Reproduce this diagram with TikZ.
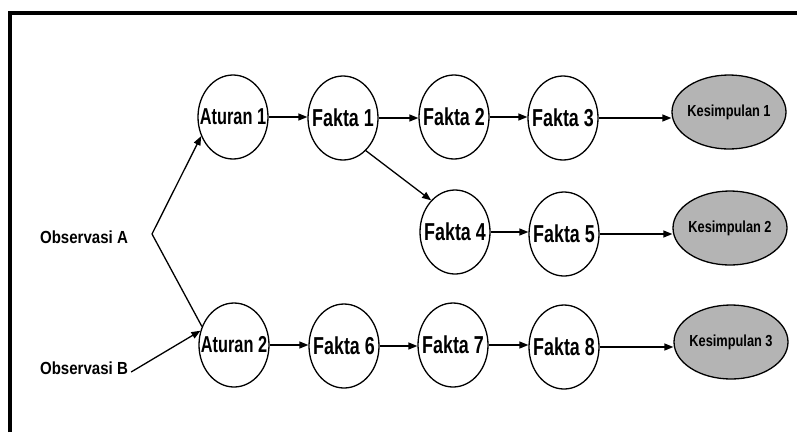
\documentclass[tikz,border=0pt]{standalone}
\usepackage{fontspec}
\setmainfont{Liberation Sans}
\usetikzlibrary{arrows.meta,shapes.geometric}
\definecolor{kesfill}{RGB}{180,180,180}
\tikzset{
  circnode/.style={ellipse, draw=black, line width=1.3pt, fill=white,
    minimum width=70pt, minimum height=84pt, inner sep=0pt},
  kesnode/.style={ellipse, draw=black, line width=1.3pt, fill=kesfill,
    minimum width=114pt, minimum height=74pt, inner sep=0pt},
  obsnode/.style={inner sep=3pt},
  conn/.style={line width=1.3pt, -{Triangle[length=9pt,width=7pt]}},
  plainconn/.style={line width=1.3pt},
  frameline/.style={line width=4pt, black}
}
\newcommand{\fakta}[1]{\makebox[0pt][c]{\scalebox{0.73}[1]{\fontsize{24.5}{24.5}\selectfont\bfseries #1}}}
\newcommand{\aturan}[1]{\makebox[0pt][c]{\scalebox{0.71}[1]{\fontsize{23}{23}\selectfont\bfseries #1}}}
\newcommand{\obs}[1]{\scalebox{0.86}[1]{\fontsize{17.5}{17.5}\selectfont\bfseries #1}}
\newcommand{\kes}[1]{\makebox[0pt][c]{\scalebox{0.80}[1]{\fontsize{16}{16}\selectfont\bfseries #1}}}
\begin{document}
\begin{tikzpicture}[x=1pt,y=-1pt]
\useasboundingbox (0,0) rectangle (797,432);
\fill[white] (0,0) rectangle (797,432);
\draw[frameline] (10,432) -- (10,13) -- (797,13);

% row 1
\node[circnode] (a1) at (233,117) {\aturan{Aturan 1}};
\node[circnode] (f1) at (343,118) {\fakta{Fakta 1}};
\node[circnode] (f2) at (454,117) {\fakta{Fakta 2}};
\node[circnode] (f3) at (563,118) {\fakta{Fakta 3}};
\node[kesnode] (k1) at (729,112) {\kes{Kesimpulan 1}};
% row 2
\node[circnode] (f4) at (455,232) {\fakta{Fakta 4}};
\node[circnode] (f5) at (564,234) {\fakta{Fakta 5}};
\node[kesnode] (k2) at (730,228) {\kes{Kesimpulan 2}};
% row 3
\node[circnode] (a2) at (234,345) {\aturan{Aturan 2}};
\node[circnode] (f6) at (344,346) {\fakta{Fakta 6}};
\node[circnode] (f7) at (453,345) {\fakta{Fakta 7}};
\node[circnode] (f8) at (564,347) {\fakta{Fakta 8}};
\node[kesnode] (k3) at (731,342) {\kes{Kesimpulan 3}};
% observations
\node[obsnode] (oa) at (84,237) {\obs{Observasi A}};
\node[obsnode] (ob) at (84,368) {\obs{Observasi B}};
\coordinate (oaj) at (152,234);

% connectors
\draw[conn] (a1.east) -- (a1.east -| f1.west);
\draw[conn] (f1.east) -- (f1.east -| f2.west);
\draw[conn] (f2.east) -- (f2.east -| f3.west);
\draw[conn] (f3.east) -- (f3.east -| k1.west);
\draw[conn] (f1.305) -- (f4.127);
\draw[conn] (f4.east) -- (f4.east -| f5.west);
\draw[conn] (f5.east) -- (f5.east -| k2.west);
\draw[conn] (a2.east) -- (a2.east -| f6.west);
\draw[conn] (f6.east) -- (f6.east -| f7.west);
\draw[conn] (f7.east) -- (f7.east -| f8.west);
\draw[conn] (f8.east) -- (f8.east -| k3.west);
\draw[conn] (oaj) -- (a1.211);
\draw[plainconn] (oaj) -- (a2.150);
\draw[conn] ([yshift=-4pt]ob.east) -- (a2.157);
\end{tikzpicture}
\end{document}
